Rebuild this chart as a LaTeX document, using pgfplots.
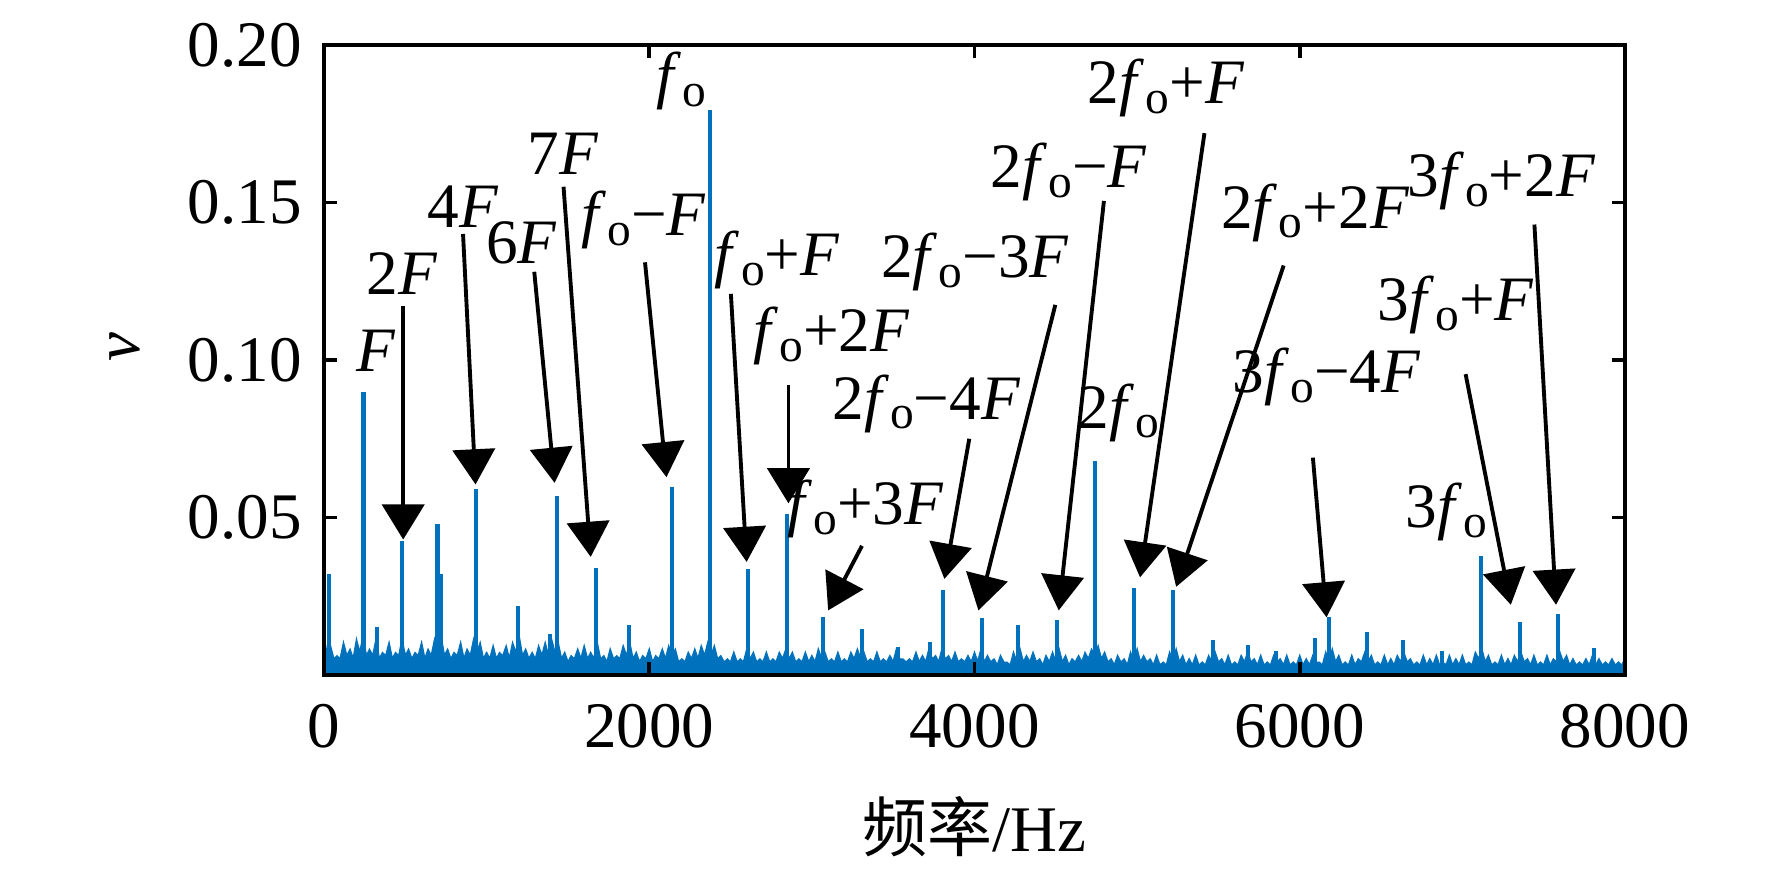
\documentclass[border=0pt]{standalone}
\usepackage{fontspec}
\setmainfont{Liberation Serif}
\newfontfamily\cjk{Noto Sans CJK SC}
\usepackage{pgfplots}
\pgfplotsset{compat=1.18}
\usetikzlibrary{arrows.meta}
\definecolor{mblue}{RGB}{0,114,189}
\newcommand\fo{\textit{f}\kern0.02em\raisebox{-2.8pt}{\fontsize{13.5}{14}\selectfont o}}
\newcommand\F{\textit{F}}
\tikzset{
  arr/.style={line width=1.1pt, -{Triangle[width=12pt,length=10pt]}},
  lab/.style={anchor=center, inner sep=0pt, font=\fontsize{18}{22}\selectfont},
}
\begin{document}
\fontsize{18.5}{22}\selectfont
\begin{tikzpicture}
\useasboundingbox (-3.24cm,-1.97cm) rectangle (14.48cm,6.75cm);
\begin{axis}[at={(0,0)}, anchor=south west, scale only axis,
  width=13.01cm, height=6.30cm,
  xmin=0, xmax=8000, ymin=0, ymax=0.2,
  xtick={0,2000,4000,6000,8000}, ytick={0.05,0.1,0.15,0.2},
  tick align=inside, major tick length=0.13cm,
  axis line style={line width=1.1pt},
  every tick/.style={black, line width=1.1pt},
  axis on top,
  /pgf/number format/assume math mode=true,
  ticklabel style={font=\fontsize{18.5}{22}\selectfont},
  scaled y ticks=false,
  yticklabel style={/pgf/number format/fixed, /pgf/number format/fixed zerofill, /pgf/number format/precision=2},
  xticklabel style={/pgf/number format/1000 sep={}, yshift=-2pt},
  clip=false,
]
% noise floor
\addplot[draw=mblue, fill=mblue, line width=0.5pt] coordinates {
(0,0.012)(20,0.006)(40,0.009)(60,0.005)(80,0.006)(100,0.005)(120,0.010)(140,0.006)(160,0.008)(180,0.005)(200,0.011)(220,0.007)(240,0.012)(260,0.006)(280,0.008)(300,0.006)(320,0.011)(340,0.005)(360,0.007)(380,0.006)
(400,0.010)(420,0.005)(440,0.007)(460,0.006)(480,0.011)(500,0.006)(520,0.008)(540,0.005)(560,0.007)(580,0.006)(600,0.010)(620,0.005)(640,0.008)(660,0.006)(680,0.011)(700,0.007)(720,0.012)(740,0.006)(760,0.008)(780,0.005)
(800,0.007)(820,0.006)(840,0.010)(860,0.005)(880,0.008)(900,0.006)(920,0.011)(940,0.007)(960,0.010)(980,0.005)(1000,0.007)(1020,0.005)(1040,0.009)(1060,0.005)(1080,0.007)(1100,0.006)(1120,0.009)(1140,0.005)(1160,0.010)(1180,0.007)
(1200,0.012)(1220,0.006)(1240,0.008)(1260,0.005)(1280,0.007)(1300,0.005)(1320,0.009)(1340,0.006)(1360,0.010)(1380,0.006)(1400,0.011)(1420,0.007)(1440,0.010)(1460,0.005)(1480,0.007)(1500,0.004)(1520,0.006)(1540,0.005)(1560,0.008)(1580,0.005)
(1600,0.009)(1620,0.005)(1640,0.007)(1660,0.005)(1680,0.010)(1700,0.005)(1720,0.006)(1740,0.004)(1760,0.008)(1780,0.005)(1800,0.006)(1820,0.005)(1840,0.009)(1860,0.006)(1880,0.010)(1900,0.005)(1920,0.007)(1940,0.004)(1960,0.006)(1980,0.005)
(2000,0.008)(2020,0.004)(2040,0.006)(2060,0.005)(2080,0.008)(2100,0.005)(2120,0.009)(2140,0.006)(2160,0.008)(2180,0.004)(2200,0.005)(2220,0.004)(2240,0.007)(2260,0.005)(2280,0.008)(2300,0.005)(2320,0.009)(2340,0.006)(2360,0.010)(2380,0.006)
(2400,0.009)(2420,0.005)(2440,0.006)(2460,0.004)(2480,0.005)(2500,0.004)(2520,0.007)(2540,0.004)(2560,0.005)(2580,0.004)(2600,0.008)(2620,0.005)(2640,0.007)(2660,0.004)(2680,0.005)(2700,0.004)(2720,0.007)(2740,0.004)(2760,0.005)(2780,0.004)
(2800,0.007)(2820,0.005)(2840,0.008)(2860,0.005)(2880,0.007)(2900,0.004)(2920,0.005)(2940,0.004)(2960,0.007)(2980,0.004)(3000,0.006)(3020,0.004)(3040,0.008)(3060,0.005)(3080,0.007)(3100,0.004)(3120,0.005)(3140,0.004)(3160,0.007)(3180,0.004)
(3200,0.005)(3220,0.004)(3240,0.007)(3260,0.005)(3280,0.008)(3300,0.005)(3320,0.007)(3340,0.004)(3360,0.005)(3380,0.004)(3400,0.007)(3420,0.004)(3440,0.005)(3460,0.004)(3480,0.006)(3500,0.004)(3520,0.008)(3540,0.005)(3560,0.005)(3580,0.004)
(3600,0.005)(3620,0.004)(3640,0.007)(3660,0.004)(3680,0.006)(3700,0.004)(3720,0.008)(3740,0.005)(3760,0.006)(3780,0.004)(3800,0.008)(3820,0.005)(3840,0.006)(3860,0.004)(3880,0.007)(3900,0.004)(3920,0.005)(3940,0.004)(3960,0.006)(3980,0.004)
(4000,0.007)(4020,0.004)(4040,0.008)(4060,0.004)(4080,0.006)(4100,0.004)(4120,0.005)(4140,0.003)(4160,0.006)(4180,0.004)(4200,0.004)(4220,0.003)(4240,0.007)(4260,0.004)(4280,0.008)(4300,0.004)(4320,0.006)(4340,0.004)(4360,0.007)(4380,0.004)
(4400,0.005)(4420,0.003)(4440,0.006)(4460,0.004)(4480,0.007)(4500,0.004)(4520,0.008)(4540,0.004)(4560,0.006)(4580,0.003)(4600,0.005)(4620,0.004)(4640,0.006)(4660,0.004)(4680,0.007)(4700,0.005)(4720,0.008)(4740,0.006)(4760,0.009)(4780,0.005)
(4800,0.007)(4820,0.004)(4840,0.005)(4860,0.003)(4880,0.006)(4900,0.004)(4920,0.005)(4940,0.003)(4960,0.007)(4980,0.004)(5000,0.008)(5020,0.004)(5040,0.006)(5060,0.004)(5080,0.005)(5100,0.003)(5120,0.006)(5140,0.003)(5160,0.004)(5180,0.003)
(5200,0.007)(5220,0.004)(5240,0.008)(5260,0.004)(5280,0.006)(5300,0.003)(5320,0.005)(5340,0.003)(5360,0.006)(5380,0.003)(5400,0.004)(5420,0.003)(5440,0.006)(5460,0.004)(5480,0.007)(5500,0.004)(5520,0.005)(5540,0.003)(5560,0.006)(5580,0.003)
(5600,0.004)(5620,0.003)(5640,0.006)(5660,0.004)(5680,0.007)(5700,0.004)(5720,0.005)(5740,0.003)(5760,0.006)(5780,0.003)(5800,0.004)(5820,0.003)(5840,0.006)(5860,0.004)(5880,0.005)(5900,0.003)(5920,0.006)(5940,0.003)(5960,0.004)(5980,0.003)
(6000,0.006)(6020,0.003)(6040,0.005)(6060,0.003)(6080,0.006)(6100,0.004)(6120,0.004)(6140,0.003)(6160,0.007)(6180,0.004)(6200,0.008)(6220,0.004)(6240,0.006)(6260,0.003)(6280,0.004)(6300,0.003)(6320,0.006)(6340,0.003)(6360,0.005)(6380,0.004)
(6400,0.007)(6420,0.004)(6440,0.006)(6460,0.003)(6480,0.004)(6500,0.003)(6520,0.006)(6540,0.003)(6560,0.005)(6580,0.003)(6600,0.006)(6620,0.004)(6640,0.007)(6660,0.004)(6680,0.005)(6700,0.003)(6720,0.004)(6740,0.003)(6760,0.006)(6780,0.003)
(6800,0.005)(6820,0.003)(6840,0.006)(6860,0.003)(6880,0.004)(6900,0.003)(6920,0.006)(6940,0.003)(6960,0.005)(6980,0.003)(7000,0.006)(7020,0.003)(7040,0.004)(7060,0.003)(7080,0.007)(7100,0.005)(7120,0.008)(7140,0.004)(7160,0.006)(7180,0.003)
(7200,0.004)(7220,0.003)(7240,0.006)(7260,0.003)(7280,0.005)(7300,0.003)(7320,0.006)(7340,0.004)(7360,0.007)(7380,0.004)(7400,0.005)(7420,0.003)(7440,0.006)(7460,0.003)(7480,0.004)(7500,0.003)(7520,0.006)(7540,0.003)(7560,0.005)(7580,0.004)
(7600,0.007)(7620,0.004)(7640,0.006)(7660,0.003)(7680,0.005)(7700,0.003)(7720,0.004)(7740,0.003)(7760,0.005)(7780,0.003)(7800,0.006)(7820,0.003)(7840,0.005)(7860,0.003)(7880,0.004)(7900,0.003)(7920,0.005)(7940,0.003)(7960,0.004)(7980,0.003)
(8000,0.005)
} \closedcycle;
% spectral lines
\addplot[ycomb, draw=mblue, line width=1.15pt, no marks] coordinates {
(30,0.032)(243,0.0898)(326,0.0152)(480,0.0424)(698,0.048)(722,0.032)(935,0.0589)(1195,0.0218)
(1390,0.013)(1435,0.0567)(1672,0.0341)(1875,0.016)(2138,0.0596)(2372,0.1795)(2610,0.0338)(2850,0.0510)
(3068,0.0183)(3310,0.0147)(3530,0.0090)(3726,0.0106)(3805,0.0270)(4048,0.0180)(4270,0.0160)(4505,0.0176)
(4740,0.0680)(4982,0.0276)(5222,0.0270)(5466,0.0112)(5682,0.0094)(5854,0.0076)(6094,0.0116)(6180,0.0183)
(6413,0.0135)(6635,0.0110)(6875,0.0075)(7112,0.0377)(7356,0.0168)(7590,0.0194)(7810,0.0085)
};
% annotations
\node[lab] at (axis cs:320,0.1030) {\F};
\node[lab] at (axis cs:480,0.1274) {2\F};
\draw[arr] (axis cs:487,0.117) -- (axis cs:487,0.0430);
\node[lab] at (axis cs:855,0.1486) {4\F};
\draw[arr] (axis cs:855,0.140) -- (axis cs:932,0.0605);
\node[lab] at (axis cs:1216,0.1371) {6\F};
\draw[arr] (axis cs:1293,0.128) -- (axis cs:1418,0.0610);
\node[lab] at (axis cs:1470,0.1655) {7\F};
\draw[arr] (axis cs:1473,0.155) -- (axis cs:1640,0.0375);
\node[lab] at (axis cs:1965,0.1445) {\fo−\F};
\draw[arr] (axis cs:1974,0.131) -- (axis cs:2106,0.0628);
\node[lab] at (axis cs:2196,0.1885) {\fo};
\node[lab] at (axis cs:2787,0.1318) {\fo+\F};
\draw[arr] (axis cs:2502,0.121) -- (axis cs:2599,0.0359);
\node[lab] at (axis cs:3121,0.1077) {\fo+2\F};
\draw[arr] (axis cs:2856,0.092) -- (axis cs:2856,0.0545);
\node[lab] at (axis cs:3329,0.0528) {\fo+3\F};
\draw[arr] (axis cs:3308,0.0410) -- (axis cs:3100,0.0205);
\node[lab] at (axis cs:3704,0.0862) {2\fo−4\F};
\draw[arr] (axis cs:3968,0.0750) -- (axis cs:3815,0.0305);
\node[lab] at (axis cs:4003,0.1310) {2\fo−3\F};
\draw[arr] (axis cs:4497,0.1175) -- (axis cs:4024,0.0205);
\node[lab] at (axis cs:4580,0.1598) {2\fo−\F};
\draw[arr] (axis cs:4796,0.1505) -- (axis cs:4518,0.0205);
\node[lab] at (axis cs:5178,0.1863) {2\fo+\F};
\draw[arr] (axis cs:5414,0.1720) -- (axis cs:5018,0.0310);
\node[lab] at (axis cs:4886,0.0833) {2\fo};
\node[lab] at (axis cs:6095,0.1468) {2\fo+2\F};
\draw[arr] (axis cs:5901,0.1300) -- (axis cs:5240,0.0280);
\node[lab] at (axis cs:7240,0.1569) {3\fo+2\F};
\draw[arr] (axis cs:7443,0.1430) -- (axis cs:7576,0.0223);
\node[lab] at (axis cs:6165,0.0945) {3\fo−4\F};
\draw[arr] (axis cs:6081,0.0690) -- (axis cs:6165,0.0183);
\node[lab] at (axis cs:6960,0.1175) {3\fo+\F};
\draw[arr] (axis cs:7020,0.0955) -- (axis cs:7298,0.0223);
\node[lab] at (axis cs:6901,0.0517) {3\fo};
\end{axis}
\node at (6.505cm,-1.52cm) {{\cjk 频率}/Hz};
\node[rotate=90] at (-1.99cm,3.28cm) {\textit{v}};
\end{tikzpicture}
\end{document}
